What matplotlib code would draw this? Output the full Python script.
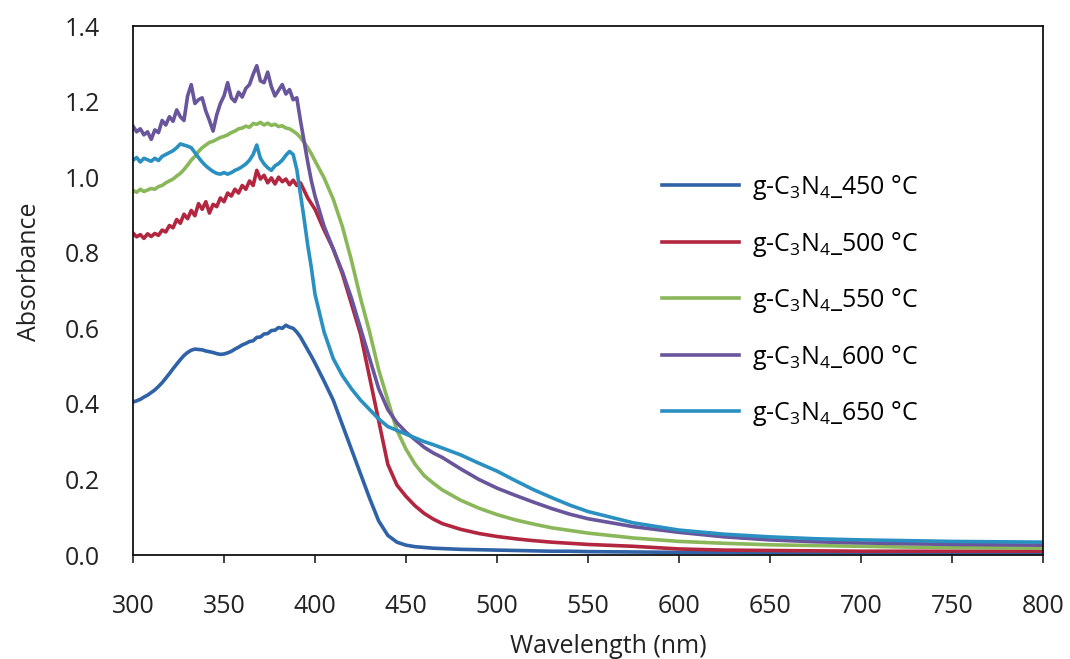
import matplotlib
matplotlib.use('Agg')
import matplotlib.pyplot as plt

plt.rcParams['font.family'] = ['Open Sans', 'DejaVu Sans']
plt.rcParams['mathtext.default'] = 'regular'

# wavelength grid (nm): dense where spectra are noisy, sparse in the tail
wl = (list(range(300, 400, 2)) + list(range(400, 470, 5))
      + list(range(470, 560, 10)) + list(range(575, 801, 25)))

a450 = [0.405, 0.408, 0.412, 0.418, 0.423, 0.430, 0.437, 0.446, 0.456, 0.468,
        0.480, 0.493, 0.505, 0.517, 0.528, 0.536, 0.542, 0.545, 0.544, 0.543,
        0.540, 0.538, 0.536, 0.533, 0.531, 0.532, 0.535, 0.539, 0.545, 0.550,
        0.556, 0.560, 0.565, 0.567, 0.576, 0.577, 0.585, 0.586, 0.594, 0.595,
        0.602, 0.600, 0.608, 0.603, 0.600, 0.590, 0.577, 0.560, 0.543, 0.526,
        0.508, 0.460, 0.410, 0.345, 0.280, 0.215, 0.150, 0.090, 0.052, 0.034,
        0.026, 0.022, 0.020, 0.018,
        0.017, 0.015, 0.014, 0.013, 0.012, 0.011, 0.010, 0.010, 0.009,
        0.008, 0.007, 0.007, 0.006, 0.006, 0.006, 0.005, 0.005, 0.005, 0.005]

a500 = [0.852, 0.842, 0.848, 0.838, 0.850, 0.843, 0.851, 0.846, 0.860, 0.855,
        0.872, 0.866, 0.888, 0.878, 0.902, 0.890, 0.912, 0.898, 0.930, 0.915,
        0.935, 0.905, 0.928, 0.922, 0.945, 0.935, 0.958, 0.950, 0.968, 0.958,
        0.978, 0.968, 0.990, 0.978, 1.018, 0.995, 1.005, 0.985, 0.998, 0.982,
        1.000, 0.988, 0.995, 0.980, 0.992, 0.978, 0.985, 0.965, 0.945, 0.930,
        0.915, 0.860, 0.810, 0.745, 0.665, 0.585, 0.470, 0.355, 0.240, 0.185,
        0.155, 0.130, 0.110, 0.095,
        0.083, 0.068, 0.057, 0.049, 0.043, 0.038, 0.034, 0.031, 0.028,
        0.023, 0.016, 0.013, 0.012, 0.011, 0.010, 0.010, 0.010, 0.010, 0.010]

a550 = [0.965, 0.960, 0.968, 0.962, 0.966, 0.970, 0.968, 0.975, 0.978, 0.985,
        0.990, 0.995, 1.003, 1.010, 1.020, 1.032, 1.045, 1.055, 1.068, 1.078,
        1.085, 1.092, 1.095, 1.100, 1.105, 1.108, 1.112, 1.118, 1.122, 1.128,
        1.130, 1.135, 1.132, 1.142, 1.140, 1.145, 1.138, 1.143, 1.137, 1.140,
        1.134, 1.136, 1.130, 1.128, 1.122, 1.115, 1.105, 1.092, 1.078, 1.062,
        1.043, 0.998, 0.942, 0.870, 0.780, 0.680, 0.590, 0.490, 0.410, 0.330,
        0.280, 0.240, 0.210, 0.190,
        0.172, 0.145, 0.124, 0.107, 0.093, 0.082, 0.072, 0.065, 0.058,
        0.045, 0.036, 0.031, 0.027, 0.025, 0.023, 0.021, 0.020, 0.019, 0.018]

a600 = [1.135, 1.120, 1.128, 1.112, 1.120, 1.100, 1.125, 1.118, 1.150, 1.138,
        1.160, 1.148, 1.178, 1.160, 1.150, 1.215, 1.245, 1.195, 1.205, 1.210,
        1.175, 1.150, 1.122, 1.165, 1.195, 1.215, 1.250, 1.210, 1.200, 1.225,
        1.212, 1.235, 1.245, 1.272, 1.295, 1.255, 1.250, 1.278, 1.240, 1.215,
        1.230, 1.245, 1.220, 1.232, 1.205, 1.210, 1.150, 1.095, 1.040, 0.990,
        0.950, 0.870, 0.810, 0.750, 0.680, 0.600, 0.520, 0.440, 0.385, 0.350,
        0.325, 0.305, 0.285, 0.270,
        0.258, 0.228, 0.200, 0.177, 0.158, 0.140, 0.123, 0.108, 0.096,
        0.075, 0.060, 0.048, 0.040, 0.035, 0.032, 0.030, 0.028, 0.027, 0.026]

a650 = [1.045, 1.052, 1.040, 1.050, 1.046, 1.042, 1.050, 1.044, 1.055, 1.060,
        1.065, 1.070, 1.078, 1.088, 1.085, 1.082, 1.078, 1.065, 1.052, 1.040,
        1.030, 1.022, 1.015, 1.010, 1.008, 1.012, 1.008, 1.012, 1.018, 1.022,
        1.028, 1.035, 1.045, 1.060, 1.085, 1.050, 1.035, 1.025, 1.018, 1.030,
        1.036, 1.045, 1.058, 1.068, 1.060, 1.020, 0.955, 0.890, 0.820, 0.760,
        0.690, 0.590, 0.520, 0.475, 0.440, 0.410, 0.385, 0.360, 0.340, 0.330,
        0.320, 0.310, 0.300, 0.292,
        0.283, 0.265, 0.243, 0.222, 0.197, 0.173, 0.152, 0.132, 0.115,
        0.085, 0.066, 0.055, 0.048, 0.043, 0.040, 0.038, 0.036, 0.035, 0.034]

temps = ['450', '500', '550', '600', '650']
series = [a450, a500, a550, a600, a650]
colors = ['#2f62a6', '#b3263f', '#8ab75a', '#68559c', '#2a90c2']

fig = plt.figure(figsize=(10.70, 6.59), dpi=100)
ax = fig.add_axes([0.1243, 0.1578, 0.8505, 0.8027])

for t, a, c in zip(temps, series, colors):
    ax.plot(wl, a, color=c, lw=2.6, label='g-C$_3$N$_4$_' + t + ' °C')

ax.set_xlim(300, 800)
ax.set_ylim(0, 1.4)
ax.set_xticks(range(300, 801, 50))
ax.set_yticks([0, 0.2, 0.4, 0.6, 0.8, 1.0, 1.2, 1.4])
ax.set_yticklabels(['0.0', '0.2', '0.4', '0.6', '0.8', '1.0', '1.2', '1.4'])
ax.tick_params(axis='x', direction='out', length=6, width=1.2, pad=22,
               labelsize=18, colors='#222222')
ax.tick_params(axis='y', length=0, pad=24, labelsize=18, colors='#222222')
for s in ax.spines.values():
    s.set_linewidth(1.3)
    s.set_color('#111111')

ax.set_xlabel('Wavelength (nm)', fontsize=18, color='#222222')
ax.xaxis.set_label_coords(0.522, -0.150)
ax.set_ylabel('Absorbance', fontsize=18, color='#222222')
ax.yaxis.set_label_coords(-0.100, 0.535)

ax.legend(loc='upper left', bbox_to_anchor=(0.581, 0.722), frameon=False,
          fontsize=18, handlelength=3.1, handletextpad=0.5, labelspacing=1.1,
          borderpad=0, borderaxespad=0)

fig.savefig('out.png', dpi=100)
